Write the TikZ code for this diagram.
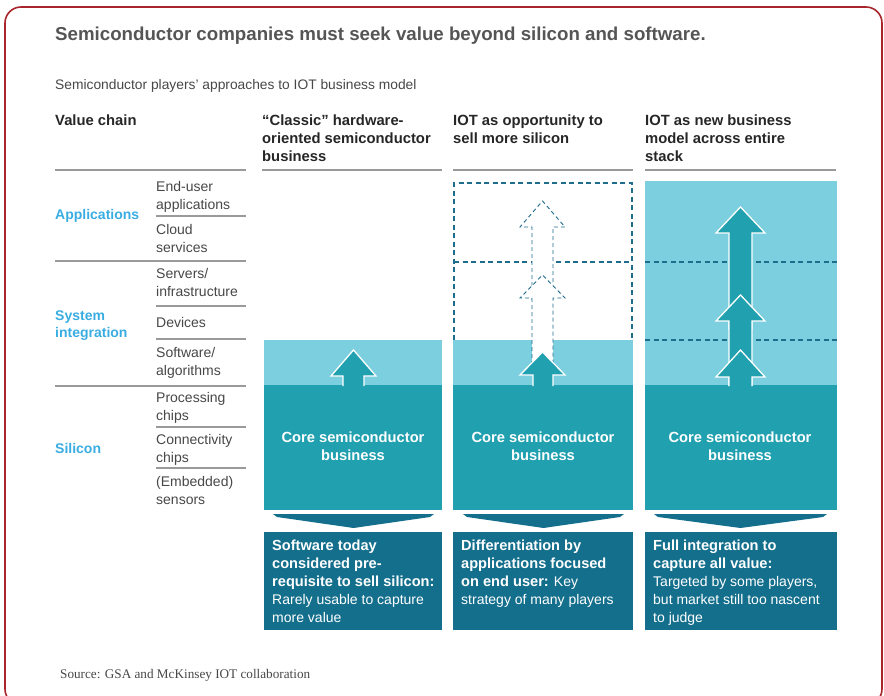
\documentclass[tikz,border=0pt]{standalone}
\usepackage{fontspec}
\setmainfont{Liberation Sans}
\newfontfamily\srcfont{Liberation Serif}
\definecolor{lightband}{HTML}{7BCFDF}
\definecolor{tealc}{HTML}{21A0B0}
\definecolor{darkbox}{HTML}{146F8D}
\definecolor{dashc}{HTML}{1F6C8D}
\definecolor{grpblue}{HTML}{39ADE2}
\definecolor{txtgray}{HTML}{474747}
\definecolor{hdrc}{HTML}{262626}
\definecolor{titlec}{HTML}{555555}
\definecolor{linec}{HTML}{9A9A9A}
\definecolor{framec}{HTML}{A8252B}
\newcommand\bt[1]{{\fontsize{14.6}{18}\selectfont\bfseries #1}}
\tikzset{
  item/.style={font=\fontsize{14}{18}\selectfont, text=txtgray, align=left, inner sep=0, anchor=base west},
  grp/.style={font=\fontsize{14}{17}\selectfont\bfseries, text=grpblue, align=left, inner sep=0, anchor=base west},
  hdr/.style={font=\fontsize{14.8}{18}\selectfont\bfseries, text=hdrc, align=left, inner sep=0, anchor=base west},
  core/.style={font=\fontsize{14.7}{18}\selectfont\bfseries, text=white, align=center, inner sep=0},
  boxtxt/.style={font=\fontsize{14}{18}\selectfont, text=white, align=left, inner sep=0, anchor=base west},
  rule/.style={draw=linec, line width=1.4pt},
  dashln/.style={draw=dashc, line width=1.1pt, dash pattern=on 5pt off 3.5pt},
  solidarrow/.style={fill=tealc, draw=white, line width=1.3pt, line join=miter},
  dasharrow/.style={fill=white, draw=dashc, line width=0.9pt, dash pattern=on 4pt off 3pt},
  chev/.style={fill=darkbox},
}
\begin{document}
\begin{tikzpicture}[x=1pt,y=-1pt]
\useasboundingbox (0,0) rectangle (884,696);
% frame
\draw[framec, line width=1.6pt, rounded corners=16pt] (5,7) rectangle (882,705);

% title
\node[font=\fontsize{18.7}{22}\selectfont\bfseries, text=titlec, anchor=base west, inner sep=0] (title) at (55,40) {Semiconductor companies must seek value beyond silicon and software.};
\node[font=\fontsize{13.8}{16}\selectfont, text=txtgray, anchor=base west, inner sep=0] (sub) at (55,89) {Semiconductor players’ approaches to IOT business model};

% headers (base = last line)
\node[hdr] (hvc) at (55,125) {Value chain};
\node[hdr] (h1) at (262,161) {“Classic” hardware-\\oriented semiconductor\\business};
\node[hdr] (h2) at (453,143) {IOT as opportunity to\\sell more silicon};
\node[hdr] (h3) at (645,161) {IOT as new business\\model across entire\\stack};

% header rules
\draw[rule] (55,170) -- (246,170);
\draw[rule] (262,170) -- (442,170);
\draw[rule] (453,170) -- (633,170);
\draw[rule] (645,170) -- (836,170);

% value chain rules
\draw[rule] (55,261) -- (246,261);
\draw[rule] (55,386) -- (246,386);
\foreach \yy in {216,306,339,427,468} \draw[rule] (156,\yy) -- (246,\yy);

% groups
\node[grp] (gapp) at (55,219) {Applications};
\node[grp] (gsys) at (55,337) {System\\integration};
\node[grp] (gsil) at (55,453) {Silicon};

% items
\node[item] (i1) at (156,209) {End-user\\applications};
\node[item] (i2) at (156,252) {Cloud\\services};
\node[item] (i3) at (156,296) {Servers/\\infrastructure};
\node[item] (i4) at (156,327) {Devices};
\node[item] (i5) at (156,375) {Software/\\algorithms};
\node[item] (i6) at (156,420) {Processing\\chips};
\node[item] (i7) at (156,462) {Connectivity\\chips};
\node[item] (i8) at (156,504) {(Embedded)\\sensors};

% ---------- column 1
\fill[lightband] (264,340) rectangle (442,386);
\fill[tealc] (264,385) rectangle (442,510);
\path[solidarrow] (343,386) -- (343,376) -- (331,376) -- (353.5,350) -- (376,376) -- (364,376) -- (364,386);
\node[core] (c1) at (353,446) {Core semiconductor\\business};
\fill[chev] (273,514) -- (434,514) -- (430,517) -- (353.5,528) -- (277,517) -- cycle;
\fill[darkbox] (264,532) rectangle (442,630);
\node[boxtxt] (b1) at (272,622) {\bt{Software today}\\\bt{considered pre-}\\\bt{requisite to sell silicon:}\\Rarely usable to capture\\more value};

% ---------- column 2
\fill[lightband] (453,340) rectangle (633,386);
\fill[tealc] (453,385) rectangle (633,510);
\draw[dashln] (454,340) -- (454,183) -- (632,183) -- (632,340);
\draw[dashln] (454,262) -- (632,262);
\path[dasharrow] (532,300) -- (532,227) -- (520,227) -- (542.5,201) -- (565,227) -- (553,227) -- (553,300);
\path[dasharrow] (532,365) -- (532,298) -- (520,298) -- (542.5,275) -- (565,298) -- (553,298) -- (553,365);
\path[solidarrow] (533,386) -- (533,375) -- (520,375) -- (542.5,352) -- (565,375) -- (553,375) -- (553,386);
\node[core] (c2) at (543,446) {Core semiconductor\\business};
\fill[chev] (463,514) -- (624,514) -- (620,517) -- (543.5,528) -- (467,517) -- cycle;
\fill[darkbox] (453,532) rectangle (633,630);
\node[boxtxt] (b2) at (461,604) {\bt{Differentiation by}\\\bt{applications focused}\\\bt{on end user:} Key\\strategy of many players};

% ---------- column 3
\fill[lightband] (645,181) rectangle (837,386);
\fill[tealc] (645,385) rectangle (837,510);
\draw[dashln] (645,262) -- (837,262);
\draw[dashln] (645,340) -- (837,340);
\path[solidarrow] (729,386) -- (729,233) -- (716,233) -- (740.5,207) -- (765,233) -- (752,233) -- (752,386);
\path[solidarrow] (729,330) -- (729,321) -- (716,321) -- (740.5,295) -- (765,321) -- (752,321) -- (752,330);
\path[solidarrow] (729,386) -- (729,377) -- (716,377) -- (740.5,350) -- (765,377) -- (752,377) -- (752,386);
\node[core] (c3) at (740,446) {Core semiconductor\\business};
\fill[chev] (654,514) -- (827,514) -- (823,517) -- (740.5,528) -- (658,517) -- cycle;
\fill[darkbox] (645,532) rectangle (837,630);
\node[boxtxt] (b3) at (653,622) {\bt{Full integration to}\\\bt{capture all value:}\\Targeted by some players,\\but market still too nascent\\to judge};

% source
\node[font=\fontsize{13.2}{15}\srcfont, text=txtgray, anchor=base west, inner sep=0] (src) at (60,678) {Source: GSA and McKinsey IOT collaboration};
\end{tikzpicture}
\end{document}
